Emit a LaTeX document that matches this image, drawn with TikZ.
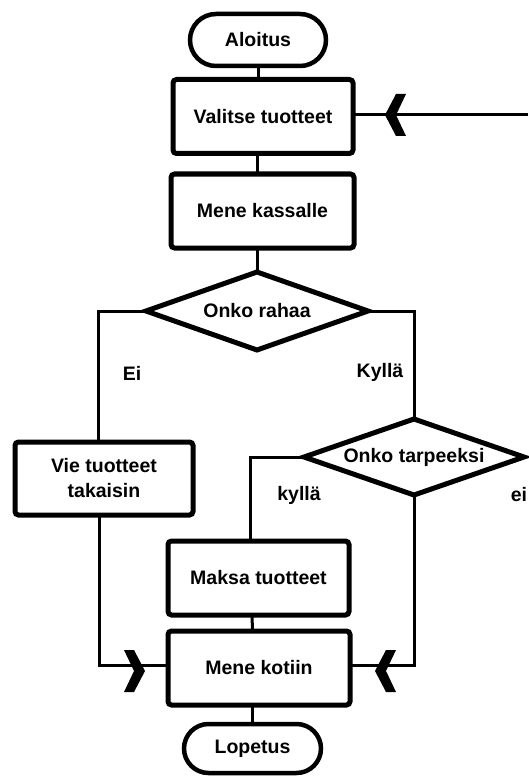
\documentclass[tikz,border=0pt]{standalone}
\usepackage{fontspec}
\setmainfont{Liberation Sans}
\usetikzlibrary{shapes.geometric,shapes.misc}
\begin{document}
\begin{tikzpicture}[x=1pt,y=-1pt,
  font=\fontsize{19.5}{25}\selectfont\bfseries,
  every node/.style={inner sep=0pt, outer sep=0pt},
  stepbox/.style={draw, line width=5pt, rounded corners=3.5pt,
    minimum width=180pt, minimum height=74pt, align=center},
  term/.style={draw, rounded rectangle, line width=4.5pt,
    minimum width=136pt, minimum height=52pt},
  choice/.style={draw, diamond, aspect=3, line width=5pt,
    minimum width=222pt, minimum height=78pt},
  link/.style={line width=3pt},
  chevL/.pic={\fill (0,0) -- (11,-21) -- (21,-21) -- (11,0) -- (21,21) -- (11,21) -- cycle;},
  chevR/.pic={\fill (0,0) -- (-11,-21) -- (-21,-21) -- (-11,0) -- (-21,21) -- (-11,21) -- cycle;}
]
\useasboundingbox (0,0) rectangle (528,778);
\fill[white] (0,0) rectangle (528,778);

% main column
\node[term] (start) at (258,40) {Aloitus};
\node[stepbox] (valitse) at (263,116.5) {Valitse tuotteet};
\node[stepbox, minimum width=183pt] (kassa) at (262.5,211) {Mene kassalle};
\node[choice] (raha) at (257,311) {Onko rahaa};

% branches
\node[stepbox, minimum width=178pt, minimum height=73pt] (vie) at (104,478.5) {Vie tuotteet\\takaisin};
\node[choice, minimum width=220pt, minimum height=76pt] (tarve) at (414,457) {Onko tarpeeksi};
\node[stepbox, minimum width=181pt] (maksa) at (258.5,578) {Maksa tuotteet};
\node[stepbox, minimum width=182pt] (koti) at (259,668) {Mene kotiin};
\node[term, minimum width=137pt, minimum height=49pt] (loppu) at (252.5,748.5) {Lopetus};

% branch labels
\node (ei1) at (132,373) {Ei};
\node (kylla1) at (380,372) {Kyllä};
\node (kylla2) at (299,495) {kyllä};
\node (ei2) at (519,495) {ei};

% return line entering from the right
\coordinate (ret) at (528,115);

% connectors
\draw[link] (start.south) -- (start.south |- valitse.north);
\draw[link] (valitse.south -| raha.north) -- (kassa.north -| raha.north);
\draw[link] (kassa.south -| raha.north) -- (raha.north);
\draw[link] (ret) -- (valitse.east |- ret);
\draw[link] (raha.west) -| ([xshift=-6pt]vie.north);
\draw[link] (raha.east) -| (tarve.north);
\draw[link] (tarve.west) -| ([xshift=-8.5pt]maksa.north);
\draw[link] (tarve.south) |- ([yshift=3pt]koti.east);
\draw[link] ([xshift=-5pt]vie.south) |- ([yshift=3pt]koti.west);
\draw[link] ([xshift=-6.5pt]maksa.south) -- ([xshift=-6.5pt]koti.north);
\draw[link] (loppu.north) -- (loppu.north |- koti.south);

% arrow marks on the lines
\pic at (385,115) {chevL};
\pic at (145,671) {chevR};
\pic at (375,671) {chevL};
\end{tikzpicture}
\end{document}
